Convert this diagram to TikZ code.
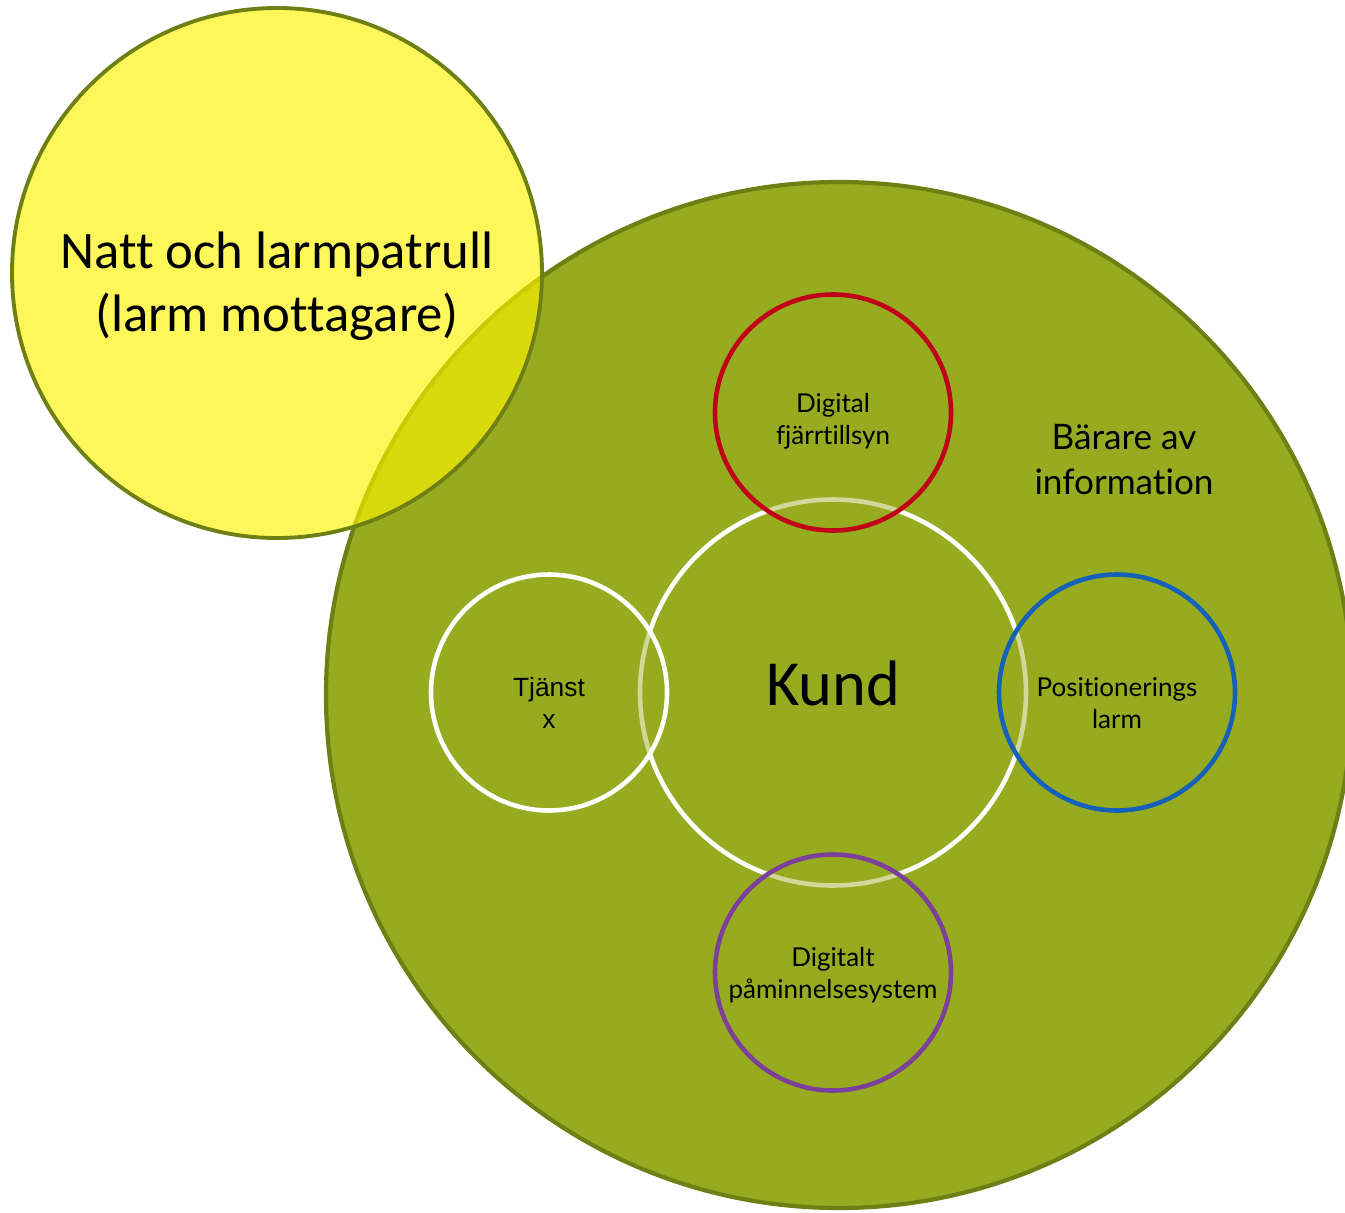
\documentclass[tikz,border=0pt]{standalone}
\usepackage{fontspec}
\setmainfont{Lato}[Ligatures=NoCommon]
\newfontfamily\calibri{Carlito}[Ligatures=NoCommon]
\newfontfamily\arial{Liberation Sans}
\usetikzlibrary{positioning}
\definecolor{leaf}{HTML}{97AB20}
\definecolor{olive}{HTML}{6E7F14}
\definecolor{alarmred}{HTML}{C00018}
\definecolor{alarmblue}{HTML}{1560B8}
\definecolor{remindpurple}{HTML}{7C3F9A}
\begin{document}
\begin{tikzpicture}[node distance = 2.8cm and 2.84cm, on grid, line width=1.3pt]
      \tikzstyle{ring}=[circle, inner sep=0pt, align=center, text=black]
      \tikzstyle{service}=[ring, minimum size=2.36cm, fill=leaf, fill opacity=0.45]
      \tikzstyle{service text}=[align=center, font=\fontsize{7.4}{9.1}\selectfont]
      \useasboundingbox (0,0) rectangle (13.45,-12.12);
      \clip (0,0) rectangle (13.45,-12.12);
      \node[ring, minimum size=10.26cm, fill=leaf, draw=olive, line width=1.2pt] (carrier) at (8.39,-6.95) {};
      \node[ring, minimum size=3.86cm, draw=white,
        label={[font=\calibri\fontsize{18.3}{22}\selectfont, yshift=0.09cm]center:Kund}] (kund) at (8.33,-6.925) {};
      \node[service, draw=alarmred, label={[service text, yshift=-0.09cm]center:{Digital\\fjärrtillsyn}}] (remote) [above = of kund] {};
      \node[service, draw=white, label={[service text, font=\arial\fontsize{7.5}{9.1}\selectfont, yshift=-0.10cm]center:{Tjänst\\x}}] (tjanst) [left = of kund] {};
      \node[service, draw=alarmblue, label={[service text, yshift=-0.105cm]center:{Positionerings\\larm}}] (position) [right = of kund] {};
      \node[service, draw=remindpurple, label={[service text, yshift=-0.03cm]center:{Digitalt\\påminnelsesystem}}] (reminder) [below = of kund] {};
      \node[align=center, font=\fontsize{10}{12.8}\selectfont] (carrierlabel) at (11.24,-4.60) {Bärare av\\information};
      \node[ring, minimum size=5.3cm, fill=yellow, fill opacity=0.65, draw=olive, line width=1.1pt,
        label={[align=center, font=\calibri\fontsize{15}{18}\selectfont, yshift=-0.13cm]center:{Natt och larmpatrull\\(larm mottagare)}}] (patrol) at (2.77,-2.73) {};
    \end{tikzpicture}
\end{document}
